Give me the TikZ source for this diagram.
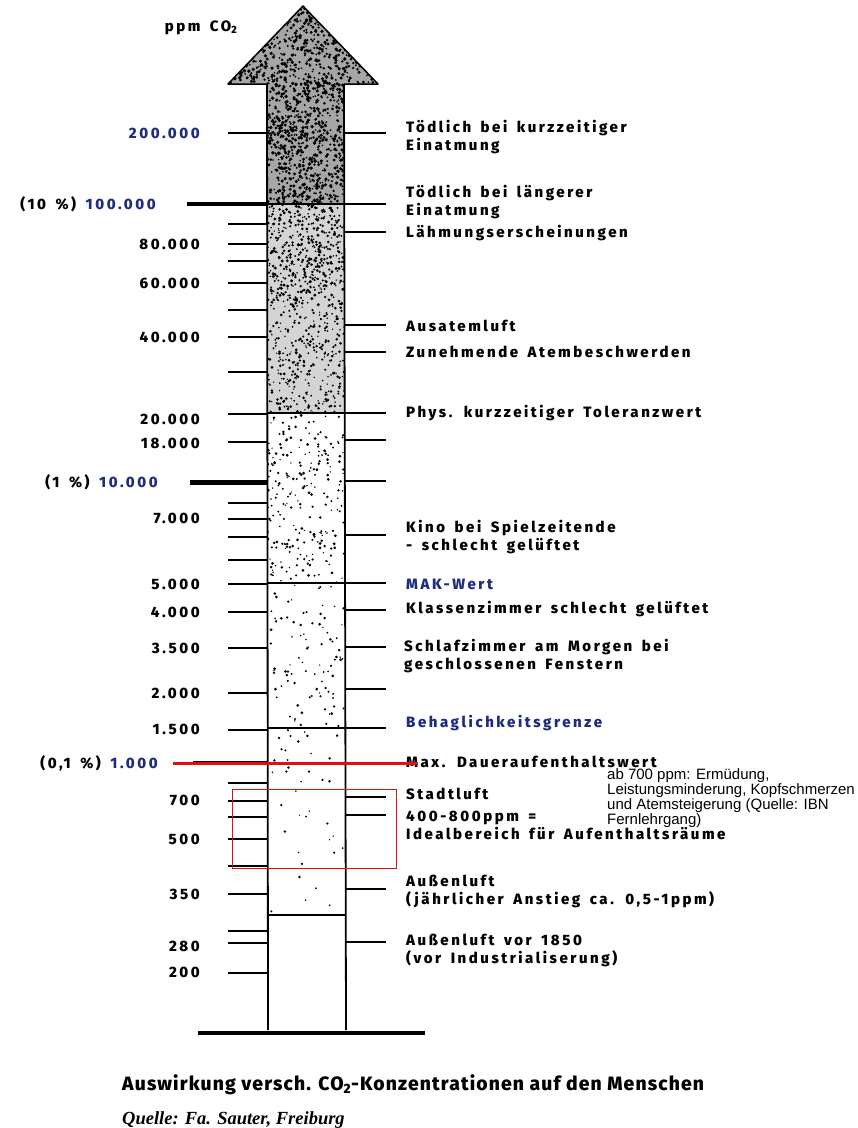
\documentclass[tikz,border=0pt]{standalone}
\usepackage{fontspec}
\setmainfont{Liberation Serif}
\newfontfamily\labfont[LetterSpace=17,WordSpace=1.6,BoldFont={Fira Sans ExtraBold}]{Fira Sans}
\newfontfamily\capfont[LetterSpace=6,BoldFont={Fira Sans ExtraBold}]{Fira Sans}
\newfontfamily\notefont{Liberation Sans}
\usepackage{xcolor}
\usetikzlibrary{positioning}
\definecolor{scaleblue}{RGB}{30,45,125}
\definecolor{notered}{RGB}{225,15,15}

\begin{document}
\begin{tikzpicture}[x=1pt,y=-1pt,
  lab/.style={font=\labfont\bfseries\fontsize{15}{18}\selectfont, inner sep=0pt, align=left},
  num/.style={lab, anchor=east},
  txt/.style={lab, anchor=west},
  scaletick/.style={line width=1.4pt},
  heavytick/.style={line width=4pt},
  shaftline/.style={line width=1.8pt}]
\useasboundingbox (0,0) rectangle (858,1128);
\begin{scope}
\clip (228,84) -- (303,6) -- (378,84) -- (344,84) -- (346,1030) -- (268,1030) -- (267,84) -- cycle;
\fill[black!35] (228,0) rectangle (378,204);
\fill[black!17] (260,204) rectangle (350,413);
\pgfmathsetseed{7}
\foreach \n/\ya/\yb/\xa/\xb/\rs in {750/6/84/228/378/1.7, 700/84/204/267/344/1.7, 440/204/300/267/344/1.5, 330/300/413/267/344/1.4, 240/413/583/267/344/1.4, 90/583/728/267/344/1.4, 40/728/915/267/344/1.3}{
  \foreach \i in {1,...,\n}{
    \pgfmathsetmacro\px{\xa+(\xb-\xa)*rnd}
    \pgfmathsetmacro\py{\ya+(\yb-\ya)*rnd}
    \pgfmathsetmacro\pr{\rs*(0.5+0.6*rnd)}
    \fill (\px,\py) circle[radius=\pr];
  }
}
\end{scope}
\draw[line width=1.5pt, line join=round] (267,84) -- (228,84) -- (303,6) -- (378,84) -- (344,84);
\draw[shaftline] (267,84) -- (268,1030);
\draw[shaftline] (344,84) -- (346,1030);
\foreach \y in {204,413,583,728,915} \draw[line width=1.3pt] (267,\y) -- (345,\y);
\draw[line width=4pt] (198,1033) -- (425,1033);
\foreach \y in {133,224,244,261,283,310,337,372,414,442,503,519,537,560,584,612,648,693,730,783,801,817,839,866,894,931,943,973}
  \draw[scaletick] (228,\y) -- (267,\y);
\foreach \y in {133,204,232,325,352,413,440,481,535,583,610,647,689,728,763,797,815,889,942}
  \draw[scaletick] (345,\y) -- (386,\y);
\draw[heavytick] (187,204) -- (267,204);
\draw[heavytick, line width=5pt] (190,482) -- (267,482);
\draw[heavytick] (193,763) -- (267,763);

\node[lab, font=\labfont\bfseries\fontsize{15}{17}\selectfont] (ppm) at (201,28) {ppm CO\textsubscript{2}};

\node[num] (n200k) at (200,133) {\textcolor{scaleblue}{200.000}};
\node[num] (n100k) at (156,204) {(10 \%) \textcolor{scaleblue}{100.000}};
\node[num] (n80k) at (200,244) {80.000};
\node[num] (n60k) at (200,283) {60.000};
\node[num] (n40k) at (200,337) {40.000};
\node[num] (n20k) at (200,419) {20.000};
\node[num] (n18k) at (200,443) {18.000};
\node[num] (n10k) at (158,482) {(1 \%) \textcolor{scaleblue}{10.000}};
\node[num] (n7k) at (200,518) {7.000};
\node[num] (n5k) at (200,584) {5.000};
\node[num] (n4k) at (200,612) {4.000};
\node[num] (n3k5) at (200,648) {3.500};
\node[num] (n2k) at (200,693) {2.000};
\node[num] (n1k5) at (200,729) {1.500};
\node[num] (n1k) at (158,763) {(0,1 \%) \textcolor{scaleblue}{1.000}};
\node[num] (n700) at (200,800) {700};
\node[num] (n500) at (200,839) {500};
\node[num] (n350) at (200,894) {350};
\node[num] (n280) at (200,946) {280};
\node[num] (n200) at (200,972) {200};

\node[txt] (kurz) at (406,137) {Tödlich bei kurzzeitiger\\Einatmung};
\node[txt] (lang) at (406,202) {Tödlich bei längerer\\Einatmung};
\node[txt] (laehm) at (406,233) {Lähmungserscheinungen};
\node[txt] (ausatem) at (406,326) {Ausatemluft};
\node[txt] (atemb) at (406,352) {Zunehmende Atembeschwerden};
\node[txt] (toler) at (406,413) {Phys. kurzzeitiger Toleranzwert};
\node[txt] (kino) at (406,537) {Kino bei Spielzeitende\\- schlecht gelüftet};
\node[txt, text=scaleblue] (mak) at (406,584) {MAK-Wert};
\node[txt] (klasse) at (406,609) {Klassenzimmer schlecht gelüftet};
\node[txt] (schlaf) at (404,656) {Schlafzimmer am Morgen bei\\geschlossenen Fenstern};
\node[txt, text=scaleblue] (behag) at (406,723) {Behaglichkeitsgrenze};
\node[txt] (maxdauer) at (406,762) {Max. Daueraufenthaltswert};
\node[txt] (stadt) at (406,794) {Stadtluft};
\node[txt] (ideal) at (406,825) {400-800ppm =\\Idealbereich für Aufenthaltsräume};
\node[txt] (aussen) at (406,891) {Außenluft\\(jährlicher Anstieg ca. 0,5-1ppm)};
\node[txt] (vor1850) at (406,950) {Außenluft vor 1850\\(vor Industrialiserung)};

\draw[notered, line width=3pt] (173,763) -- (418,763);
\draw[notered, line width=0.9pt] (232,789) rectangle (396,868);
\node[anchor=north west, inner sep=0pt, align=left, font=\notefont\fontsize{15}{13.7}\selectfont] (ab700) at (607,768) {ab 700 ppm: Ermüdung,\\Leistungsminderung, Kopfschmerzen\\und Atemsteigerung (Quelle: IBN\\Fernlehrgang)};

\node[anchor=west, inner sep=0pt, font=\capfont\bfseries\fontsize{19.3}{22}\selectfont] (caption) at (122,1085) {Auswirkung versch. CO\textsubscript{2}-Konzentrationen auf den Menschen};
\node[anchor=west, inner sep=0pt, font=\bfseries\itshape\fontsize{18.5}{20}\selectfont] (quelle) at (122,1120) {Quelle: Fa. Sauter, Freiburg};
\end{tikzpicture}
\end{document}
